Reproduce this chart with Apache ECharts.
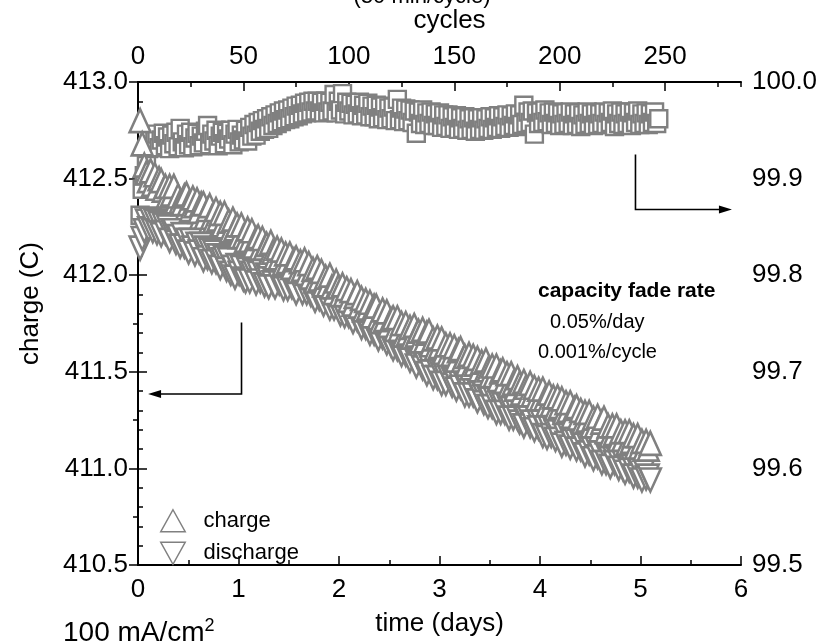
<!DOCTYPE html>
<html>
<head>
<meta charset="utf-8">
<script src="https://cdn.jsdelivr.net/npm/echarts/dist/echarts.min.js"></script>
<style>
html, body { margin: 0; padding: 0; background: #fff; }
#chart { width: 823px; height: 642px; }
</style>
</head>
<body>
<div id="chart"></div>
<script>
// Charge passed per cycle (C), cycle 1 onward
const chargeC = [
  412.80, 412.68, 412.57, 412.53, 412.49, 412.54, 412.47, 412.52, 412.45, 412.50,
  412.49, 412.44, 412.46, 412.41, 412.46, 412.42, 412.46, 412.38, 412.41, 412.38,
  412.37, 412.41, 412.42, 412.37, 412.34, 412.40, 412.36, 412.39, 412.33, 412.37,
  412.37, 412.30, 412.34, 412.36, 412.30, 412.28, 412.34, 412.29, 412.32, 412.26,
  412.32, 412.25, 412.28, 412.23, 412.29, 412.24, 412.26, 412.20, 412.26, 412.20,
  412.18, 412.24, 412.18, 412.23, 412.15, 412.19, 412.20, 412.14, 412.19, 412.14,
  412.16, 412.10, 412.17, 412.12, 412.09, 412.14, 412.09, 412.13, 412.06, 412.11,
  412.07, 412.11, 412.04, 412.08, 412.09, 412.02, 412.07, 412.03, 412.08, 412.01,
  412.06, 411.99, 412.03, 411.97, 412.04, 411.98, 412.02, 411.95, 411.99, 411.95,
  412.00, 411.94, 411.91, 411.97, 411.94, 411.90, 411.95, 411.90, 411.93, 411.87,
  411.92, 411.85, 411.89, 411.91, 411.84, 411.88, 411.82, 411.87, 411.83, 411.86,
  411.79, 411.84, 411.84, 411.78, 411.76, 411.82, 411.77, 411.81, 411.74, 411.77,
  411.78, 411.72, 411.78, 411.72, 411.75, 411.69, 411.75, 411.70, 411.73, 411.68,
  411.74, 411.69, 411.71, 411.66, 411.72, 411.66, 411.70, 411.71, 411.64, 411.67,
  411.62, 411.68, 411.63, 411.67, 411.60, 411.64, 411.59, 411.64, 411.59, 411.63,
  411.56, 411.61, 411.62, 411.56, 411.58, 411.54, 411.59, 411.52, 411.58, 411.54,
  411.57, 411.51, 411.55, 411.49, 411.56, 411.51, 411.48, 411.53, 411.48, 411.53,
  411.46, 411.50, 411.51, 411.45, 411.49, 411.43, 411.49, 411.44, 411.41, 411.47,
  411.44, 411.39, 411.45, 411.42, 411.38, 411.44, 411.38, 411.42, 411.36, 411.41,
  411.36, 411.41, 411.36, 411.33, 411.39, 411.33, 411.37, 411.31, 411.37, 411.32,
  411.36, 411.29, 411.34, 411.30, 411.34, 411.27, 411.31, 411.32, 411.26, 411.30,
  411.24, 411.29, 411.25, 411.29, 411.22, 411.26, 411.22, 411.27, 411.20, 411.24,
  411.26, 411.19, 411.22, 411.17, 411.22, 411.18, 411.22, 411.15, 411.19, 411.15,
  411.19, 411.13, 411.19, 411.14, 411.17, 411.11, 411.17, 411.11, 411.14, 411.10,
  411.14, 411.10, 411.13
];

// Charge returned per cycle (C)
const dischargeC = [
  412.14, 412.19, 412.23, 412.28, 412.24, 412.29, 412.23, 412.28, 412.22, 412.27,
  412.21, 412.26, 412.22, 412.25, 412.18, 412.23, 412.23, 412.17, 412.20, 412.15,
  412.21, 412.15, 412.18, 412.12, 412.18, 412.14, 412.11, 412.16, 412.12, 412.16,
  412.08, 412.14, 412.09, 412.13, 412.07, 412.12, 412.07, 412.10, 412.04, 412.08,
  412.09, 412.03, 412.08, 412.01, 412.04, 411.99, 412.05, 412.01, 412.04, 411.98,
  411.97, 412.03, 411.97, 412.01, 412.02, 411.96, 412.01, 411.97, 412.02, 411.95,
  412.00, 411.94, 412.01, 411.96, 411.94, 412.00, 411.96, 411.99, 411.93, 411.97,
  411.93, 411.99, 411.94, 411.98, 411.91, 411.96, 411.97, 411.91, 411.95, 411.91,
  411.96, 411.90, 411.92, 411.87, 411.93, 411.88, 411.91, 411.85, 411.91, 411.86,
  411.83, 411.89, 411.83, 411.88, 411.83, 411.80, 411.85, 411.79, 411.84, 411.79,
  411.82, 411.76, 411.82, 411.77, 411.79, 411.73, 411.79, 411.73, 411.75, 411.70,
  411.76, 411.70, 411.73, 411.67, 411.73, 411.68, 411.71, 411.65, 411.70, 411.64,
  411.62, 411.68, 411.62, 411.65, 411.59, 411.64, 411.59, 411.62, 411.56, 411.60,
  411.60, 411.53, 411.57, 411.58, 411.52, 411.55, 411.49, 411.54, 411.50, 411.47,
  411.53, 411.47, 411.51, 411.44, 411.49, 411.44, 411.48, 411.49, 411.43, 411.46,
  411.41, 411.46, 411.42, 411.46, 411.38, 411.43, 411.38, 411.43, 411.38, 411.43,
  411.35, 411.39, 411.40, 411.34, 411.39, 411.32, 411.36, 411.32, 411.36, 411.29,
  411.35, 411.29, 411.33, 411.29, 411.33, 411.26, 411.31, 411.26, 411.31, 411.26,
  411.24, 411.29, 411.22, 411.26, 411.27, 411.22, 411.24, 411.20, 411.26, 411.21,
  411.25, 411.17, 411.21, 411.16, 411.21, 411.17, 411.21, 411.15, 411.19, 411.15,
  411.12, 411.18, 411.13, 411.18, 411.11, 411.14, 411.16, 411.10, 411.16, 411.10,
  411.13, 411.07, 411.13, 411.08, 411.11, 411.05, 411.11, 411.06, 411.08, 411.03,
  411.10, 411.03, 411.07, 411.01, 411.07, 411.03, 411.06, 411.00, 411.06, 411.00,
  410.98, 411.04, 410.99, 411.02, 410.96, 411.02, 410.96, 410.99, 410.94, 410.99,
  410.95, 410.96, 410.94
];

// Coulombic efficiency per cycle (%)
const efficiency = [
  99.862, 99.889, 99.903, 99.917, 99.931, 99.944, 99.933, 99.941, 99.946, 99.932,
  99.940, 99.947, 99.934, 99.943, 99.931, 99.945, 99.936, 99.948, 99.933, 99.952,
  99.938, 99.932, 99.946, 99.935, 99.948, 99.933, 99.942, 99.947, 99.934, 99.944,
  99.937, 99.949, 99.955, 99.935, 99.946, 99.939, 99.950, 99.934, 99.944, 99.948,
  99.936, 99.947, 99.941, 99.950, 99.935, 99.946, 99.951, 99.938, 99.945, 99.940,
  99.950, 99.939, 99.953, 99.944, 99.956, 99.945, 99.958, 99.949, 99.960, 99.951,
  99.962, 99.952, 99.964, 99.955, 99.966, 99.957, 99.968, 99.959, 99.970, 99.961,
  99.971, 99.962, 99.973, 99.964, 99.975, 99.965, 99.976, 99.967, 99.978, 99.968,
  99.979, 99.969, 99.980, 99.970, 99.980, 99.970, 99.979, 99.968, 99.980, 99.969,
  99.979, 99.970, 99.987, 99.968, 99.980, 99.971, 99.988, 99.967, 99.979, 99.970,
  99.978, 99.966, 99.977, 99.967, 99.979, 99.965, 99.976, 99.966, 99.978, 99.964,
  99.975, 99.964, 99.976, 99.962, 99.974, 99.963, 99.975, 99.961, 99.973, 99.962,
  99.974, 99.960, 99.982, 99.961, 99.973, 99.959, 99.972, 99.960, 99.971, 99.958,
  99.970, 99.947, 99.969, 99.957, 99.971, 99.956, 99.968, 99.957, 99.969, 99.955,
  99.967, 99.955, 99.968, 99.953, 99.966, 99.954, 99.966, 99.952, 99.964, 99.953,
  99.965, 99.951, 99.963, 99.952, 99.964, 99.950, 99.962, 99.951, 99.963, 99.949,
  99.962, 99.951, 99.963, 99.950, 99.962, 99.952, 99.964, 99.951, 99.963, 99.953,
  99.965, 99.952, 99.964, 99.954, 99.966, 99.953, 99.965, 99.955, 99.967, 99.954,
  99.966, 99.956, 99.976, 99.957, 99.969, 99.958, 99.970, 99.946, 99.968, 99.957,
  99.969, 99.958, 99.971, 99.959, 99.968, 99.956, 99.969, 99.957, 99.968, 99.955,
  99.967, 99.956, 99.968, 99.957, 99.969, 99.955, 99.967, 99.956, 99.968, 99.954,
  99.966, 99.956, 99.969, 99.957, 99.967, 99.955, 99.968, 99.956, 99.967, 99.957,
  99.969, 99.956, 99.968, 99.958, 99.970, 99.954, 99.967, 99.957, 99.969, 99.956,
  99.967, 99.957, 99.969, 99.955, 99.968, 99.958, 99.970, 99.956, 99.967, 99.957,
  99.968, 99.956, 99.967, 99.958, 99.969, 99.957, 99.962
];

const legendNames = ['charge', 'discharge'];
const fadeRateLines = ['capacity fade rate', '0.05%/day', '0.001%/cycle'];
const cycleNote = '(30 min/cycle)';

const FONT = '"Liberation Sans", Arial, sans-serif';
const GREY = '#808080';

const toPairs = arr => arr.map((v, i) => [i + 1, v]);

const chart = echarts.init(document.getElementById('chart'), null, { renderer: 'canvas' });

const axisLine = { show: true, lineStyle: { color: '#000', width: 2 } };
const majorTick = () => ({ show: true, inside: true, length: 9, lineStyle: { color: '#000', width: 1.5 } });
const minorTick = n => ({ show: true, splitNumber: n, length: 5, lineStyle: { color: '#000', width: 1.5 } });
const label = (margin, fmt) => ({
  show: true, margin: margin, color: '#000', fontSize: 26, fontFamily: FONT,
  formatter: fmt
});

const hollowTri = { color: '#fff', borderColor: GREY, borderWidth: 2.6, opacity: 1 };
const hollowSq = { color: '#fff', borderColor: GREY, borderWidth: 2.4, opacity: 1 };

chart.setOption({
  animation: false,
  backgroundColor: '#fff',
  textStyle: { fontFamily: FONT },
  grid: { left: 138, right: 82, top: 82, bottom: 75, containLabel: false },
  legend: {
    orient: 'vertical', left: 155, top: 504,
    itemWidth: 27, itemHeight: 22, itemGap: 9,
    selectedMode: false,
    itemStyle: { color: '#fff', borderColor: GREY, borderWidth: 1.5 },
    textStyle: { fontSize: 22, color: '#000', fontFamily: FONT, padding: [0, 0, 0, 12] },
    data: [
      { name: legendNames[0], icon: 'path://M10,0 L20,18 L0,18 Z' },
      { name: legendNames[1], icon: 'path://M0,0 L20,0 L10,18 Z' }
    ]
  },
  xAxis: [
    {
      type: 'value', position: 'bottom', min: 0, max: 6, interval: 1,
      axisLine: axisLine, axisTick: majorTick(), minorTick: minorTick(2),
      axisLabel: label(12, v => String(v)), splitLine: { show: false },
      name: 'time (days)', nameLocation: 'middle', nameGap: 46,
      nameTextStyle: { fontSize: 26, color: '#000', fontFamily: FONT }
    },
    {
      type: 'value', position: 'top', min: 0, max: 286, interval: 50,
      axisLine: axisLine, axisTick: majorTick(), minorTick: { show: false },
      axisLabel: Object.assign(label(12, v => String(v)), { showMaxLabel: false }),
      splitLine: { show: false },
      name: 'cycles', nameLocation: 'middle', nameGap: 48,
      nameTextStyle: { fontSize: 26, color: '#000', fontFamily: FONT, padding: [0, 0, 0, 20] }
    },
    {
      // short ticks every 25 cycles along the top edge
      type: 'value', position: 'top', min: 0, max: 286, interval: 25,
      axisLine: { show: false },
      axisTick: { show: true, inside: true, length: 5, lineStyle: { color: '#000', width: 1.5 } },
      axisLabel: { show: false }, splitLine: { show: false }
    }
  ],
  yAxis: [
    {
      type: 'value', position: 'left', min: 410.5, max: 413, interval: 0.5,
      axisLine: axisLine, axisTick: majorTick(), minorTick: minorTick(5),
      axisLabel: label(10, v => v.toFixed(1)), splitLine: { show: false },
      name: 'charge (C)', nameLocation: 'middle', nameGap: 94,
      nameTextStyle: { fontSize: 26, color: '#000', fontFamily: FONT, padding: [0, 0, 0, 40] }
    },
    {
      type: 'value', position: 'right', min: 99.5, max: 100, interval: 0.1,
      axisLine: axisLine, axisTick: majorTick(), minorTick: minorTick(2),
      axisLabel: label(11, v => v.toFixed(1)), splitLine: { show: false }
    }
  ],
  series: [
    {
      name: 'efficiency', type: 'scatter', xAxisIndex: 1, yAxisIndex: 1,
      symbol: 'rect', symbolSize: 17, itemStyle: hollowSq,
      emphasis: { disabled: true }, data: toPairs(efficiency)
    },
    {
      name: legendNames[1], type: 'scatter', xAxisIndex: 1, yAxisIndex: 0,
      symbol: 'triangle', symbolRotate: 180, symbolSize: [21, 23], itemStyle: hollowTri,
      emphasis: { disabled: true }, data: toPairs(dischargeC)
    },
    {
      name: legendNames[0], type: 'scatter', xAxisIndex: 1, yAxisIndex: 0,
      symbol: 'triangle', symbolSize: [21, 23], itemStyle: hollowTri,
      emphasis: { disabled: true }, data: toPairs(chargeC)
    }
  ]
});

// Annotations: arrows pointing to each y axis, fade-rate note, current density
const px = (x, y) => chart.convertToPixel({ xAxisIndex: 0, yAxisIndex: 0 }, [x, y]);
const pxR = (x, y) => chart.convertToPixel({ xAxisIndex: 0, yAxisIndex: 1 }, [x, y]);

const a1 = px(1.03, 411.755), a2 = px(1.03, 411.385), a3 = px(0.10, 411.385);
const b1 = pxR(4.95, 99.925), b2 = pxR(4.95, 99.868), b3 = pxR(5.91, 99.868);

const line = { stroke: '#000', lineWidth: 1.6, fill: null };
chart.setOption({
  graphic: [
    { type: 'polyline', shape: { points: [a1, a2, [a3[0] + 10, a3[1]]] }, style: line, silent: true },
    { type: 'polygon', shape: { points: [a3, [a3[0] + 13, a3[1] - 4], [a3[0] + 13, a3[1] + 4]] }, style: { fill: '#000' }, silent: true },
    { type: 'polyline', shape: { points: [b1, b2, [b3[0] - 10, b3[1]]] }, style: line, silent: true },
    { type: 'polygon', shape: { points: [b3, [b3[0] - 13, b3[1] - 4], [b3[0] - 13, b3[1] + 4]] }, style: { fill: '#000' }, silent: true },
    { type: 'text', left: 538, top: 281, silent: true,
      style: { text: fadeRateLines[0], font: 'bold 21px ' + FONT, fill: '#000' } },
    { type: 'text', left: 550, top: 312, silent: true,
      style: { text: fadeRateLines[1], font: '20px ' + FONT, fill: '#000' } },
    { type: 'text', left: 538, top: 342, silent: true,
      style: { text: fadeRateLines[2], font: '20px ' + FONT, fill: '#000' } },
    // note above the cycle axis, running off the top edge of the page
    { type: 'text', x: 422, y: 8, silent: true,
      style: { text: cycleNote, font: '22px ' + FONT, fill: '#000', align: 'center', verticalAlign: 'bottom' } },
    { type: 'text', left: 63, top: 617, silent: true,
      style: {
        text: '{a|100 mA/cm}{s|2}',
        rich: {
          a: { fontSize: 28, fontFamily: FONT, fill: '#000', verticalAlign: 'bottom' },
          s: { fontSize: 18, fontFamily: FONT, fill: '#000', verticalAlign: 'top', padding: [0, 0, 12, 0] }
        }
      } }
  ]
});
</script>
</body>
</html>
